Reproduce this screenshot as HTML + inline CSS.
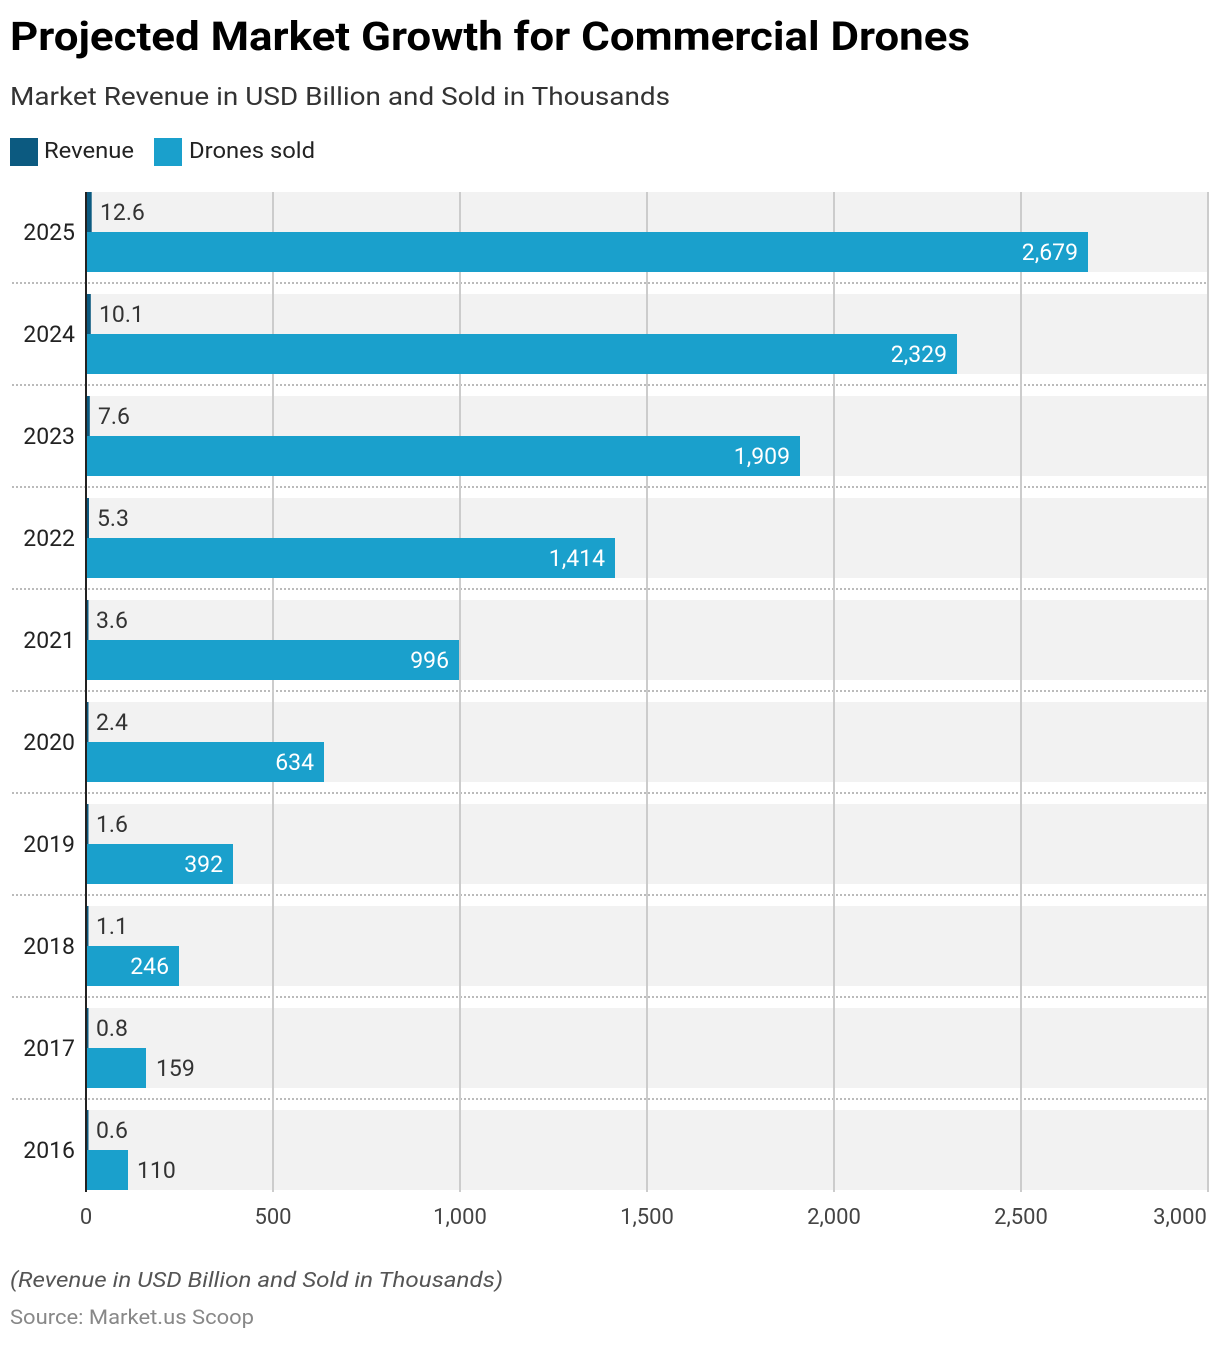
<!DOCTYPE html><html><head><style>body{margin:0;background:#fff}</style></head><body>
<svg width="1220" height="1342" xmlns="http://www.w3.org/2000/svg" font-family="Roboto,'Liberation Sans',sans-serif">
<text x="10" y="50" font-size="40" font-weight="bold" fill="#000" textLength="960" lengthAdjust="spacingAndGlyphs">Projected Market Growth for Commercial Drones</text>
<text x="10" y="105" font-size="25" fill="#333" textLength="660" lengthAdjust="spacingAndGlyphs">Market Revenue in USD Billion and Sold in Thousands</text>
<rect x="10" y="138" width="28" height="28" fill="#0c5a80"/><text x="44" y="158" font-size="22" fill="#222" textLength="90" lengthAdjust="spacingAndGlyphs">Revenue</text>
<rect x="154" y="138" width="28" height="28" fill="#1aa0cc"/><text x="189" y="158" font-size="22" fill="#222" textLength="126" lengthAdjust="spacingAndGlyphs">Drones sold</text>
<g fill="#f2f2f2">
<rect x="87" y="192" width="1121" height="80"/><rect x="87" y="294" width="1121" height="80"/><rect x="87" y="396" width="1121" height="80"/><rect x="87" y="498" width="1121" height="80"/><rect x="87" y="600" width="1121" height="80"/><rect x="87" y="702" width="1121" height="80"/><rect x="87" y="804" width="1121" height="80"/><rect x="87" y="906" width="1121" height="80"/><rect x="87" y="1008" width="1121" height="80"/><rect x="87" y="1110" width="1121" height="80"/>
</g>
<g stroke="#bbb" stroke-width="2" stroke-dasharray="2,2">
<line x1="12" y1="283" x2="1208" y2="283"/><line x1="12" y1="385" x2="1208" y2="385"/><line x1="12" y1="487" x2="1208" y2="487"/><line x1="12" y1="589" x2="1208" y2="589"/><line x1="12" y1="691" x2="1208" y2="691"/><line x1="12" y1="793" x2="1208" y2="793"/><line x1="12" y1="895" x2="1208" y2="895"/><line x1="12" y1="997" x2="1208" y2="997"/><line x1="12" y1="1099" x2="1208" y2="1099"/>
</g>
<g stroke="#ccc" stroke-width="2">
<line x1="273" y1="192" x2="273" y2="1192"/><line x1="460" y1="192" x2="460" y2="1192"/><line x1="647" y1="192" x2="647" y2="1192"/><line x1="834" y1="192" x2="834" y2="1192"/><line x1="1021" y1="192" x2="1021" y2="1192"/><line x1="1208" y1="192" x2="1208" y2="1192"/>
</g>
<g fill="#0c5a80">
<rect x="87" y="192" width="4.7" height="40"/><rect x="87" y="294" width="3.8" height="40"/><rect x="87" y="396" width="2.8" height="40"/><rect x="87" y="498" width="2" height="40"/><rect x="87" y="600" width="1.5" height="40"/><rect x="87" y="702" width="1.5" height="40"/><rect x="87" y="804" width="1.5" height="40"/><rect x="87" y="906" width="1.5" height="40"/><rect x="87" y="1008" width="1.5" height="40"/><rect x="87" y="1110" width="1.5" height="40"/>
</g>
<g fill="#1aa0cc">
<rect x="87" y="232" width="1001" height="40"/><rect x="87" y="334" width="870" height="40"/><rect x="87" y="436" width="713" height="40"/><rect x="87" y="538" width="528" height="40"/><rect x="87" y="640" width="372" height="40"/><rect x="87" y="742" width="237" height="40"/><rect x="87" y="844" width="146" height="40"/><rect x="87" y="946" width="92" height="40"/><rect x="87" y="1048" width="59" height="40"/><rect x="87" y="1150" width="41" height="40"/>
</g>
<g font-size="23" fill="#222" text-anchor="end">
<text x="75" y="240">2025</text><text x="75" y="342">2024</text><text x="75" y="444">2023</text><text x="75" y="546">2022</text><text x="75" y="648">2021</text><text x="75" y="750">2020</text><text x="75" y="852">2019</text><text x="75" y="954">2018</text><text x="75" y="1056">2017</text><text x="75" y="1158">2016</text>
</g>
<g font-size="23" fill="#333">
<text x="100" y="220">12.6</text><text x="99" y="322">10.1</text><text x="98" y="424">7.6</text><text x="97" y="526">5.3</text><text x="96" y="628">3.6</text><text x="96" y="730">2.4</text><text x="96" y="832">1.6</text><text x="96" y="934">1.1</text><text x="96" y="1036">0.8</text><text x="96" y="1138">0.6</text>
<text x="156" y="1076">159</text><text x="137" y="1178">110</text>
</g>
<g font-size="23" fill="#fff" text-anchor="end">
<text x="1078" y="260">2,679</text><text x="947" y="362">2,329</text><text x="790" y="464">1,909</text><text x="605" y="566">1,414</text><text x="449" y="668">996</text><text x="314" y="770">634</text><text x="223" y="872">392</text><text x="169" y="974">246</text>
</g>
<line x1="86" y1="192" x2="86" y2="1192" stroke="#222" stroke-width="2"/>
<g font-size="22" fill="#444" text-anchor="middle">
<text x="86" y="1224">0</text><text x="273" y="1224">500</text><text x="460" y="1224">1,000</text><text x="647" y="1224">1,500</text><text x="834" y="1224">2,000</text><text x="1021" y="1224">2,500</text><text x="1180" y="1224">3,000</text>
</g>
<text x="10" y="1287" font-size="21" font-style="italic" fill="#555" textLength="493" lengthAdjust="spacingAndGlyphs">(Revenue in USD Billion and Sold in Thousands)</text>
<text x="10" y="1324" font-size="20" fill="#888" textLength="244" lengthAdjust="spacingAndGlyphs">Source: Market.us Scoop</text>
</svg></body></html>
